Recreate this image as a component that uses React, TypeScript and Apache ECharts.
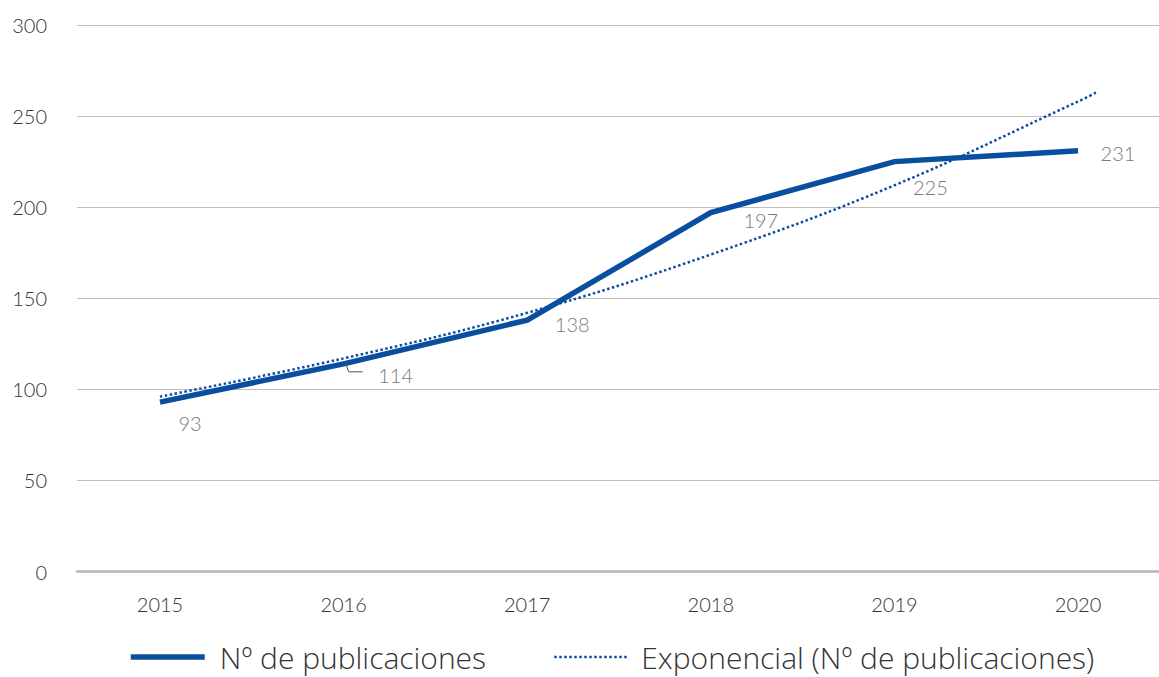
import React, { useEffect, useRef } from "react";
import * as echarts from "echarts";

const years = [2015, 2016, 2017, 2018, 2019, 2020];
const publicaciones = [93, 114, 138, 197, 225, 231];
// exponential trend values (trend extends slightly past 2020)
const trendX = [2015, 2016, 2017, 2018, 2019, 2020, 2020.1];
const trendY = [96, 117, 142, 174, 212, 258, 263];
const labelOffsets: [number, number][] = [
  [30, 21],
  [52, 11],
  [45, 4],
  [50, 7],
  [36, 25],
  [40, 2],
];
const yTicks = [0, 50, 100, 150, 200, 250, 300];

const FONT = "Lato, 'Open Sans', sans-serif";
const LEGEND_FONT = "'Open Sans', Lato, sans-serif";
const BLUE = "#0a4f9f";

export default function App() {
  const ref = useRef<HTMLDivElement>(null);
  useEffect(() => {
    if (!ref.current) return;
    const chart = echarts.init(ref.current, null, { renderer: "svg" });
    const legendText = {
      fontSize: 30,
      lineHeight: 34,
      color: "#333",
      fontFamily: LEGEND_FONT,
      fontWeight: 300,
    };
    const option: any = {
      animation: false,
      grid: { left: 77, right: 0, top: 25, bottom: 105.5, containLabel: false },
      xAxis: {
        type: "value",
        min: 2014.548,
        max: 2020.441,
        axisLine: { show: true, onZero: true, lineStyle: { color: "#bdb5ae", width: 2.5 } },
        axisTick: { show: false },
        splitLine: { show: false },
        axisLabel: {
          customValues: years,
          formatter: (v: number) => String(v),
          margin: 22,
          fontSize: 20,
          color: "#333",
          fontFamily: FONT,
          fontWeight: 300,
        },
      },
      yAxis: {
        type: "value",
        min: yTicks[0],
        max: yTicks[yTicks.length - 1],
        interval: 50,
        axisLine: { show: false },
        axisTick: { show: false },
        splitLine: { lineStyle: { color: "#c4bdb8", width: 1 } },
        axisLabel: {
          margin: 30,
          fontSize: 20,
          color: "#333",
          fontFamily: FONT,
          fontWeight: 300,
        },
      },
      legend: [
        {
          left: 128,
          top: 640,
          padding: 0,
          itemWidth: 74,
          itemHeight: 10,
          data: ["Nº de publicaciones"],
          textStyle: { ...legendText, padding: [0, 0, 0, 10] },
          itemStyle: { opacity: 0 },
          lineStyle: { width: 5.5 },
        },
        {
          left: 553,
          top: 640,
          padding: 0,
          itemWidth: 74,
          itemHeight: 10,
          data: ["Exponencial (Nº de publicaciones)"],
          textStyle: { ...legendText, padding: [0, 0, 0, 8] },
          itemStyle: { opacity: 0 },
          lineStyle: { width: 2.5 },
        },
      ],
      series: [
        {
          name: "Exponencial (Nº de publicaciones)",
          type: "line",
          data: trendX.map((x, i) => [x, trendY[i]]),
          smooth: 0.4,
          showSymbol: false,
          symbol: "none",
          lineStyle: { color: BLUE, width: 2.5, type: "dotted" },
          itemStyle: { color: BLUE },
          z: 3,
        },
        {
          name: "Nº de publicaciones",
          type: "line",
          data: years.map((y, i) => ({
            value: [y, publicaciones[i]],
            label: { offset: labelOffsets[i] },
          })),
          symbol: "circle",
          symbolSize: 0.1,
          showSymbol: true,
          lineStyle: { color: BLUE, width: 5.5, cap: "butt", join: "miter" },
          itemStyle: { color: BLUE },
          label: {
            show: true,
            position: "inside",
            formatter: (p: any) => String(p.value[1]),
            fontSize: 20,
            color: "#7a7a7a",
            fontFamily: FONT,
            fontWeight: 300,
          },
          z: 4,
        },
      ],
    };
    chart.setOption(option);
    const p = chart.convertToPixel({ gridIndex: 0 }, [years[1], publicaciones[1]]) as number[];
    chart.setOption({
      graphic: [
        {
          type: "polyline",
          shape: {
            points: [
              [p[0] + 2, p[1] - 1],
              [p[0] + 5, p[1] + 8],
              [p[0] + 19, p[1] + 8],
            ],
          },
          style: { stroke: "#555", fill: "none", lineWidth: 1 },
          z: 10,
        },
      ],
    });
    return () => chart.dispose();
  }, []);
  return (
    <div
      ref={ref}
      style={{ position: "absolute", left: 0, top: 0, width: 1159, height: 677 }}
    />
  );
}
